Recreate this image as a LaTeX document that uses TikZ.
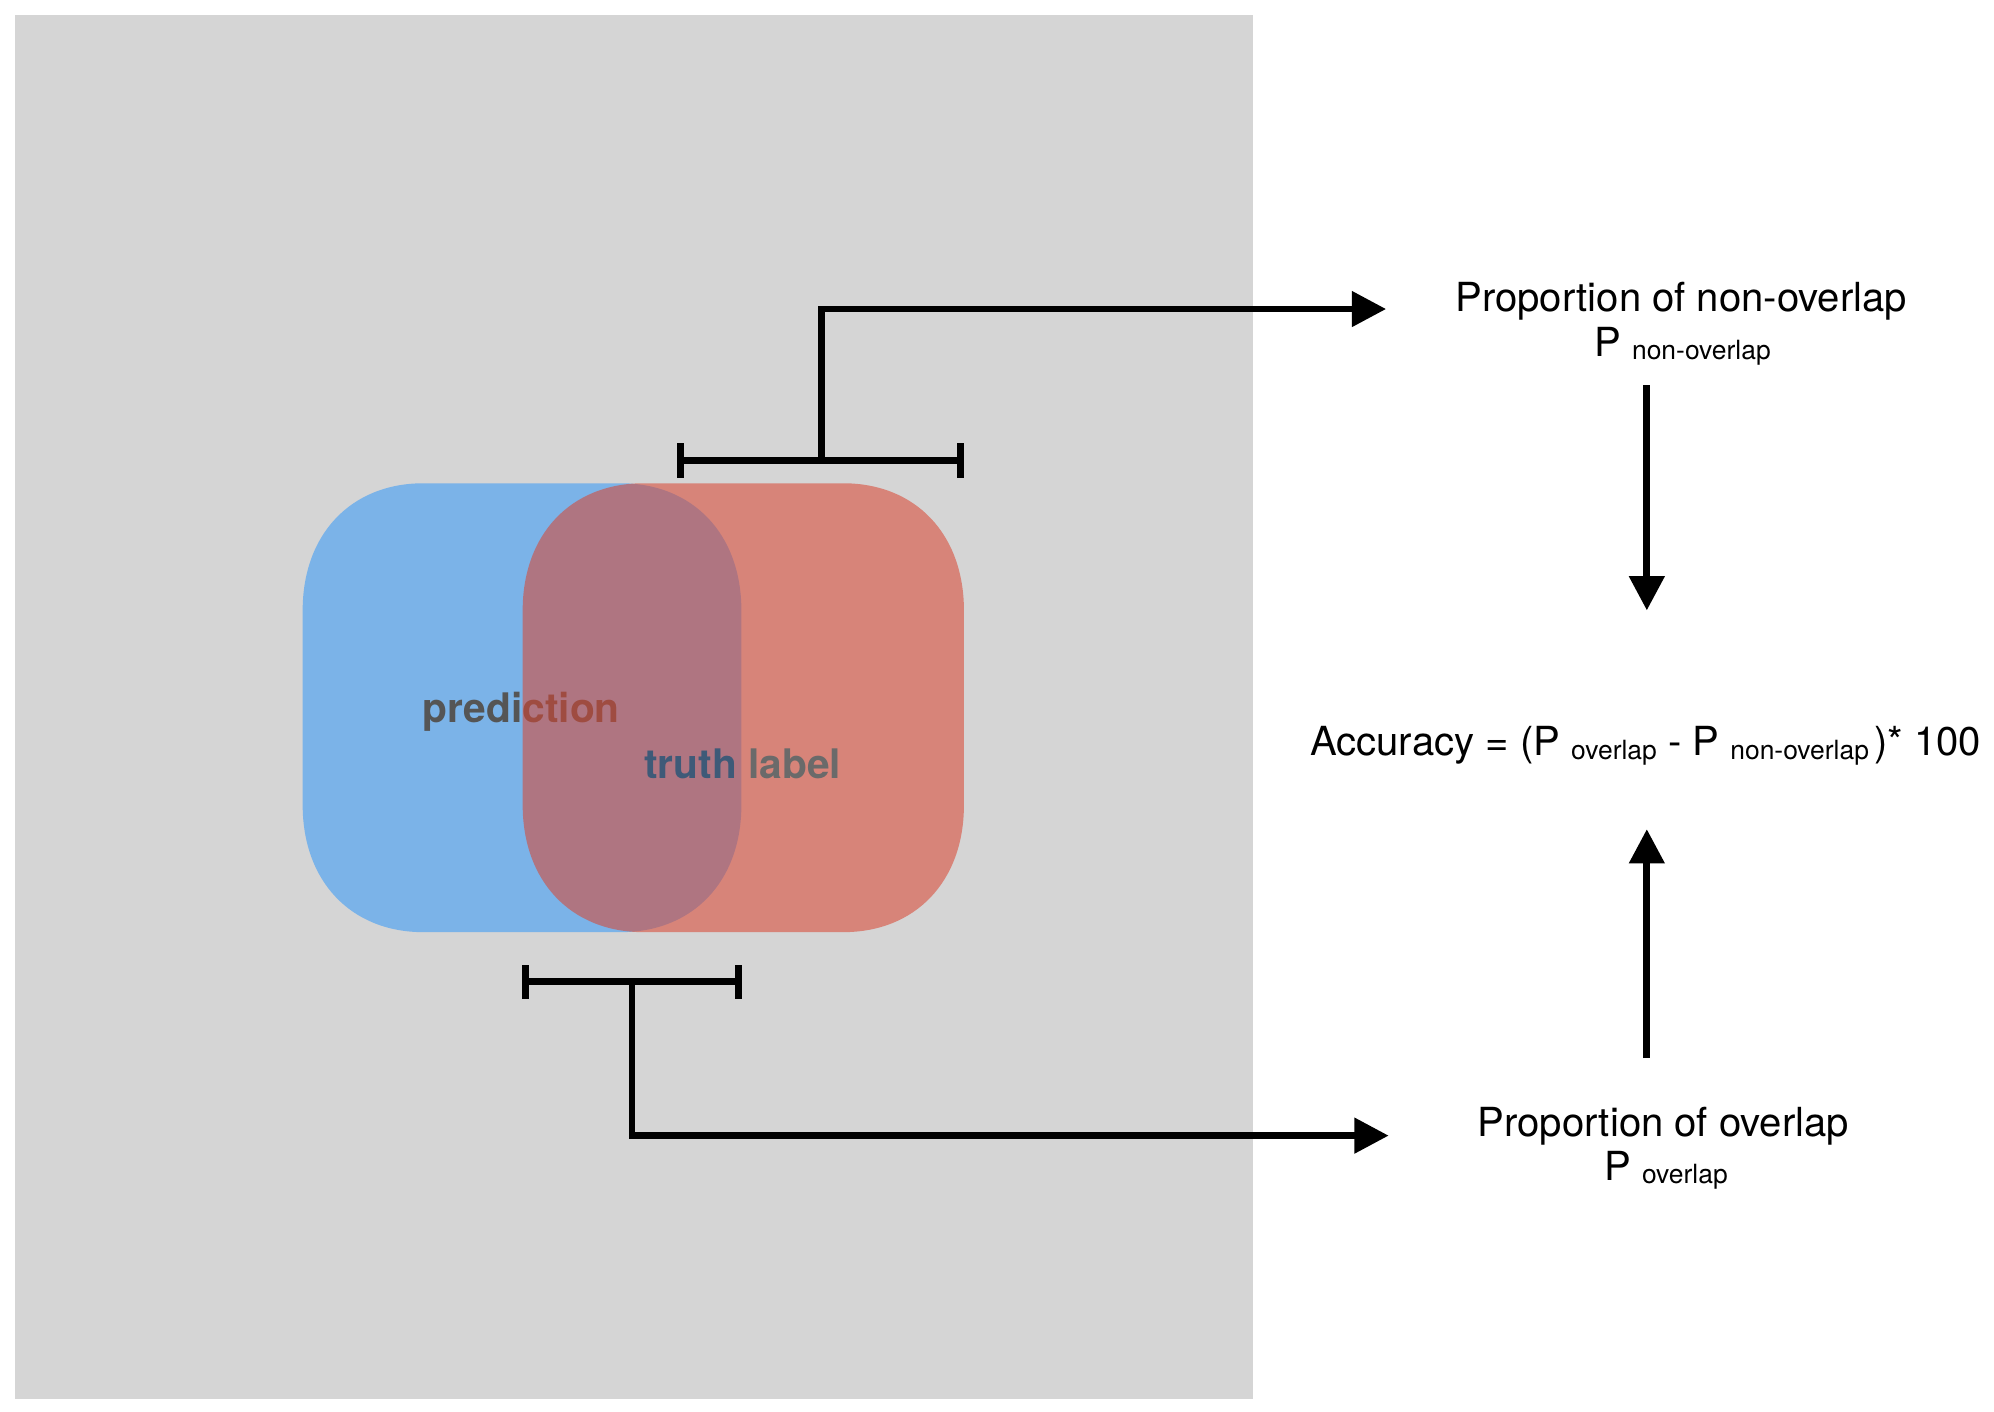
\documentclass[tikz,border=0pt]{standalone}
\usepackage{fontspec}
\setmainfont{TeX Gyre Heros}
\usetikzlibrary{arrows.meta}
\definecolor{bggray}{RGB}{213,213,213}
\definecolor{predblue}{RGB}{123,179,232}
\definecolor{truthred}{RGB}{217,70,50}
\definecolor{predtext}{RGB}{85,85,85}
\definecolor{truthblue}{RGB}{62,90,120}
\definecolor{labeltext}{RGB}{106,106,106}
\newcommand\subtxt[1]{\raisebox{-1.5pt}{\fontsize{10.4}{12}\selectfont #1}}
\begin{document}
\begin{tikzpicture}[x=0.5pt,y=-0.5pt,
  txt/.style={font=\fontsize{15.75}{19}\selectfont, inner sep=0pt, anchor=base},
  setlbl/.style={font=\fontsize{16}{19}\selectfont\bfseries, inner sep=0pt, anchor=base},
  brk/.style={line width=2.7pt, black},
  arr/.style={line width=2.7pt, black, -{Triangle[length=13.5pt,width=13.5pt]}}]
\useasboundingbox (0,0) rectangle (1568,1110);
\fill[bggray] (12,12) rectangle (985,1100);
% prediction set
\fill[predblue] (333,380) -- (488,380) .. controls (545,380) and (583,420) .. (583,480) -- (583,633) .. controls (583,693) and (545,733) .. (488,733) -- (333,733) .. controls (276,733) and (238,693) .. (238,633) -- (238,480) .. controls (238,420) and (276,380) .. (333,380) -- cycle;
\node[setlbl, text=predtext] (pred) at (410,568) {prediction};
% truth set
\fill[truthred, fill opacity=0.56] (506,380) -- (663,380) .. controls (720,380) and (758,420) .. (758,480) -- (758,633) .. controls (758,693) and (720,733) .. (663,733) -- (506,733) .. controls (449,733) and (411,693) .. (411,633) -- (411,480) .. controls (411,420) and (449,380) .. (506,380) -- cycle;
\node[setlbl] (truth) at (584,612) {\textcolor{truthblue}{truth} \textcolor{labeltext}{label}};
% texts on the right
\node[txt] (nonov) at (1322,245) {Proportion of non-overlap};
\node[txt] (nonovP) at (1323,280) {P \subtxt{non-overlap}};
\node[txt] (acc) at (1294,594) {Accuracy = (P \subtxt{overlap} - P \subtxt{non-overlap}\hspace{2pt})* 100};
\node[txt] (ov) at (1308,894) {Proportion of overlap};
\node[txt] (ovP) at (1310,928) {P \subtxt{overlap}};
% top bracket (non-overlap)
\coordinate (tl) at (535,362);
\coordinate (tr) at (755,362);
\coordinate (tm) at (646,362);
\coordinate (tipA) at (1090,243);
\draw[brk] (tl) -- (tr);
\draw[brk] ([yshift=-6.75pt]tl) -- ([yshift=6.75pt]tl);
\draw[brk] ([yshift=-6.75pt]tr) -- ([yshift=6.75pt]tr);
\draw[arr] (tm) |- (tipA);
% bottom bracket (overlap)
\coordinate (bl) at (413,772);
\coordinate (br) at (581,772);
\coordinate (bm) at (497,772);
\coordinate (tipB) at (1092,893);
\draw[brk] (bl) -- (br);
\draw[brk] ([yshift=-6.75pt]bl) -- ([yshift=6.75pt]bl);
\draw[brk] ([yshift=-6.75pt]br) -- ([yshift=6.75pt]br);
\draw[arr] (bm) |- (tipB);
% vertical arrows
\coordinate (a1s) at (1295,303);
\coordinate (a1e) at (1295,480);
\coordinate (a2s) at (1295,832);
\coordinate (a2e) at (1295,652);
\draw[arr] (a1s) -- (a1e);
\draw[arr] (a2s) -- (a2e);
\end{tikzpicture}
\end{document}
